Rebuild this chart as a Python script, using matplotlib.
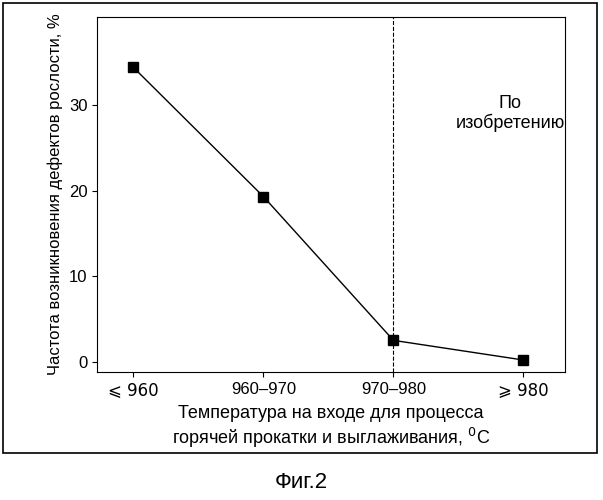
import matplotlib.pyplot as plt
from matplotlib.patches import Rectangle

# Data
categories = ["⩽ 960", "960–970", "970–980", "⩾ 980"]
defect_rate = [34.4, 19.3, 2.5, 0.2]
y_ticks = [0, 10, 20, 30]

plt.rcParams["font.family"] = "Liberation Sans"

fig = plt.figure(figsize=(6.03, 5.0), dpi=100)
ax = fig.add_axes([0.161, 0.256, 0.776, 0.71])

x = list(range(len(categories)))
ax.plot(x, defect_rate, "k-", lw=1.0, marker="s", ms=7, mfc="black")
ax.axvline(2, color="black", ls="--", lw=0.8)
ax.text(2.9, 29.0, "По\nизобретению", ha="center", va="center", fontsize=13,
        linespacing=1.1)

ax.set_xlim(-0.28, 3.32)
ax.set_ylim(-1.2, 40.3)
ax.set_xticks(x)
ax.set_xticklabels(categories, fontsize=12)
for lbl in ax.get_xticklabels():
    if "⩽" in lbl.get_text() or "⩾" in lbl.get_text():
        lbl.set_fontfamily("DejaVu Sans")
        lbl.set_fontsize(11)
ax.set_yticks(y_ticks)
ax.tick_params(labelsize=12, direction="out")
ax.set_xlabel("Температура на входе для процесса\nгорячей прокатки и выглаживания, $^0$C",
              fontsize=13, linespacing=1.2)
ax.set_ylabel("Частота возникновения дефектов рослости, %", fontsize=12)

# Outer frame and caption
fig.patches.append(Rectangle((0.005, 0.094), 0.985, 0.9, transform=fig.transFigure,
                             fill=False, ec="black", lw=1.2))
fig.text(0.5, 0.034, "Фиг.2", ha="center", va="center", fontsize=16)

fig.savefig("out.png", dpi=100)
